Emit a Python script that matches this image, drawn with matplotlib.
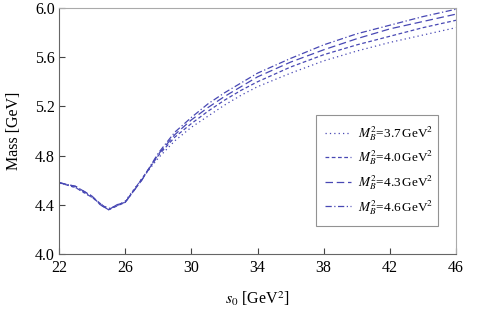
import matplotlib
matplotlib.use("Agg")
from matplotlib import pyplot as plt

plt.rcParams["font.family"] = ["Liberation Serif", "DejaVu Serif"]
plt.rcParams["mathtext.fontset"] = "stix"

# threshold values s0 [GeV^2]
s0 = [22, 23, 24, 24.5, 25, 25.5, 26, 27, 28, 29, 30, 31, 32, 33, 34,
      36, 38, 40, 42, 44, 46]

# mass curves for each Borel parameter M_B^2
mass_37 = [4.58, 4.54, 4.46, 4.41, 4.37, 4.39, 4.43, 4.61, 4.78, 4.92, 5.03,
           5.12, 5.21, 5.29, 5.36, 5.47, 5.57, 5.65, 5.72, 5.78, 5.84]
mass_40 = [4.58, 4.54, 4.46, 4.41, 4.36, 4.39, 4.42, 4.61, 4.80, 4.95, 5.06,
           5.16, 5.25, 5.33, 5.40, 5.52, 5.62, 5.70, 5.77, 5.84, 5.90]
mass_43 = [4.58, 4.55, 4.47, 4.40, 4.36, 4.40, 4.42, 4.60, 4.81, 4.97, 5.09,
           5.19, 5.28, 5.36, 5.44, 5.56, 5.66, 5.75, 5.83, 5.89, 5.95]
mass_46 = [4.58, 4.55, 4.47, 4.40, 4.36, 4.40, 4.42, 4.60, 4.82, 4.99, 5.11,
           5.22, 5.31, 5.39, 5.47, 5.59, 5.70, 5.79, 5.86, 5.93, 5.99]

labels = ["3.7", "4.0", "4.3", "4.6"]
x_ticks = [22, 26, 30, 34, 38, 42, 46]
y_ticks = [4.0, 4.4, 4.8, 5.2, 5.6, 6.0]

fig = plt.figure(figsize=(5, 3.13), dpi=100)
ax = fig.add_axes([0.118, 0.1885, 0.794, 0.786])

color = "#4848b4"
styles = [(0, (1, 2.5)), (0, (3, 2)), (0, (6, 3)), (0, (5, 2, 1, 2))]
for mass, lab, ls in zip([mass_37, mass_40, mass_43, mass_46], labels, styles):
    ax.plot(s0, mass, color=color, lw=0.9, ls=ls,
            label="$M_B^2$=" + lab + r"$\,$GeV$^2$")

ax.set_xlim(22, 46)
ax.set_ylim(4.0, 6.0)
ax.set_xticks(x_ticks)
ax.set_yticks(y_ticks)
ax.set_yticklabels(["%.1f" % v for v in y_ticks])
ax.tick_params(direction="in", length=4, width=0.8, colors="#444444",
               labelcolor="black", labelsize=11.5)
ax.tick_params(axis="x", pad=4)
ax.tick_params(axis="y", pad=3)

for side in ["left", "bottom"]:
    ax.spines[side].set_color("#666666")
for side in ["top", "right"]:
    ax.spines[side].set_color("#aaaaaa")

ax.set_xlabel("$s_0$ [GeV$^2$]", fontsize=11.5, labelpad=10)
ax.set_ylabel("Mass [GeV]", fontsize=11.5, labelpad=9)

leg = ax.legend(loc="lower left", bbox_to_anchor=(0.647, 0.114, 0.308, 0.463),
                mode="expand", fontsize=9.5, frameon=True, fancybox=False,
                handlelength=2.0, handletextpad=0.5, borderpad=0.7,
                labelspacing=0.45, borderaxespad=0)
leg.get_frame().set_edgecolor("#777777")
leg.get_frame().set_linewidth(0.8)

fig.savefig("out.png", dpi=100)
